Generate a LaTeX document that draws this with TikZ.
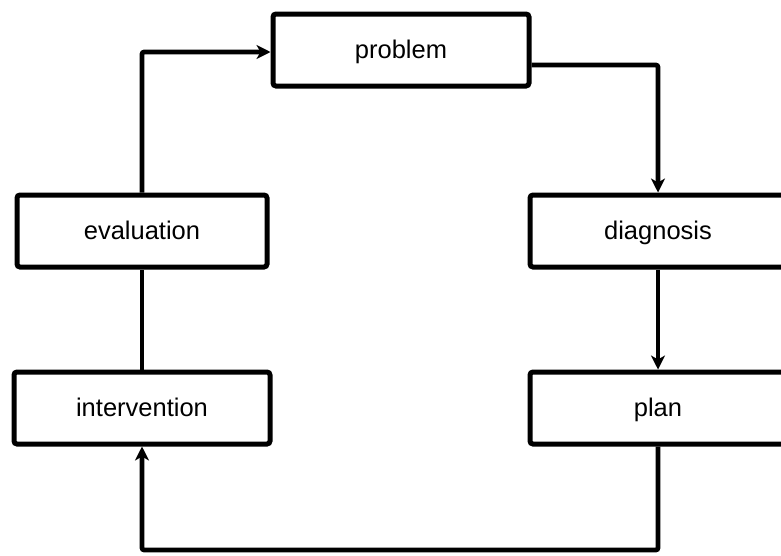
\documentclass[tikz,border=0pt]{standalone}
\usepackage{fontspec}
\setmainfont{Liberation Sans}
\usetikzlibrary{arrows.meta}
\begin{document}
\begin{tikzpicture}[x=1pt,y=-1pt,
  box/.style={draw, line width=5pt, rounded corners=3pt, fill=white,
    minimum width=256pt, minimum height=72pt, inner sep=0pt,
    text height=20pt, text depth=4pt,
    font=\fontsize{25.5}{30}\selectfont},
  link/.style={line width=4.6pt, rounded corners=2pt},
  tip/.style={-{Stealth[length=14pt,width=14pt,inset=4pt]}}]
\useasboundingbox (0,0) rectangle (781,555);
\clip (0,0) rectangle (781,555);

% process steps
\node[box] (problem)      at (401,50)  {problem};
\node[box] (diagnosis)    at (658,231) {diagnosis};
\node[box] (plan)         at (658,408) {plan};
\node[box, minimum width=250pt] (evaluation)   at (142,231) {evaluation};
\node[box] (intervention) at (142,408) {intervention};

% corner points of the return path
\coordinate (b1) at (658,550);
\coordinate (b2) at (142,550);

% cycle connectors
\draw[link, tip] (evaluation.north) |- ([yshift=-2pt]problem.west);
\draw[link, tip] ([yshift=-15pt]problem.east) -| (diagnosis.north);
\draw[link, tip] (diagnosis.south) -- (plan.north);
\draw[link, tip] (plan.south) -- (b1) -- (b2) -- (intervention.south);
\draw[link] (intervention.north) -- (evaluation.south);
\end{tikzpicture}
\end{document}
